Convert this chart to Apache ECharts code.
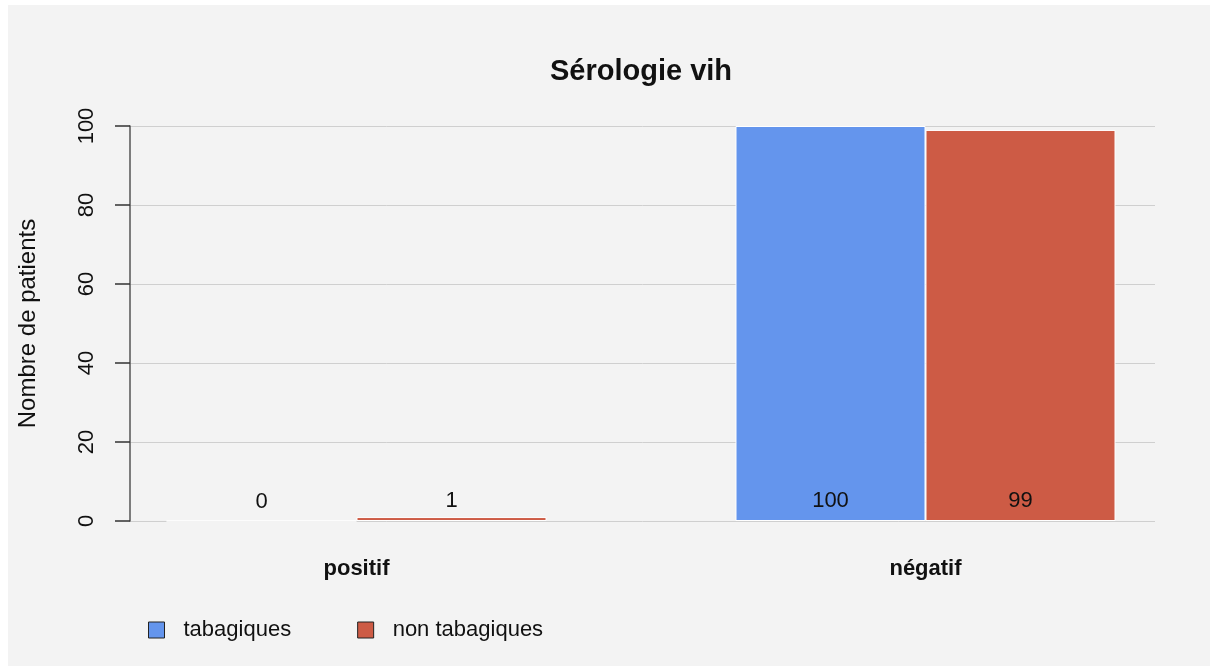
<!DOCTYPE html>
<html>
<head>
    <meta charset="utf-8">
    <title>Sérologie vih</title>
    <script src="https://cdn.jsdelivr.net/npm/echarts@6/dist/echarts.min.js"></script>
    <style>
        body { margin: 0; background: #ffffff; }
        #wrap { position: relative; width: 1210px; height: 666px; background: #ffffff; }
        #chart-container { position: absolute; left: 8px; top: 5px; width: 1202px; height: 661px; background: #f3f3f3; }
    </style>
</head>
<body>
<div id="wrap"><div id="chart-container"></div></div>
<script>
    // données
    var categories = ['positif', 'négatif'];
    var tabagiques = [0, 100];
    var nonTabagiques = [1, 99];
    var seriesNames = ['tabagiques', 'non tabagiques'];

    var font = 'Liberation Sans, Arial, sans-serif';

    var labelStyle = {
        show: true,
        position: 'insideBottom',
        distance: 9,
        color: '#111',
        fontSize: 22,
        fontFamily: font
    };

    var option1 = {
        backgroundColor: '#f3f3f3',
        animation: false,
        title: {
            text: 'Sérologie vih',
            left: 628,
            top: 47,
            textAlign: 'center',
            textStyle: { fontSize: 29, fontWeight: 'bold', color: '#111', fontFamily: font }
        },
        legend: {
            left: 135,
            top: 609,
            itemWidth: 16,
            itemHeight: 16,
            itemGap: 66,
            icon: 'rect',
            itemStyle: { borderColor: '#222', borderWidth: 1 },
            textStyle: { fontSize: 22, color: '#111', fontFamily: font, padding: [0, 0, 0, 14] },
            data: seriesNames
        },
        grid: [
            { left: 121, top: 121, width: 1026, height: 395 },
            { left: 64, top: 121, width: 1139, height: 395 }
        ],
        xAxis: [
            { type: 'category', gridIndex: 0, data: categories, show: false },
            {
                type: 'category', gridIndex: 1, data: categories,
                axisLine: { show: false },
                axisTick: { show: false },
                axisLabel: { margin: 37, fontSize: 22, fontWeight: 'bold', color: '#111', fontFamily: font }
            }
        ],
        yAxis: [
            {
                type: 'value', gridIndex: 0, min: 0, max: 100, interval: 20,
                name: 'Nombre de patients',
                nameLocation: 'middle',
                nameGap: 90,
                nameRotate: 90,
                nameTextStyle: { fontSize: 24, color: '#111', fontFamily: font },
                axisLine: { show: true, lineStyle: { color: '#555', width: 1.5 } },
                axisTick: { show: true, length: 15, lineStyle: { color: '#333', width: 1.5 } },
                axisLabel: { rotate: 90, margin: 32, fontSize: 22, color: '#111', fontFamily: font },
                splitLine: { show: true, lineStyle: { color: '#cfcfcf', width: 1 } }
            },
            { type: 'value', gridIndex: 1, min: 0, max: 100, show: false, splitLine: { show: false } }
        ],
        series: [
            {
                name: seriesNames[0],
                type: 'bar',
                xAxisIndex: 1,
                yAxisIndex: 1,
                barWidth: 190,
                barGap: '0%',
                itemStyle: { color: '#6495ED', borderColor: '#ffffff', borderWidth: 1 },
                label: labelStyle,
                data: tabagiques
            },
            {
                name: seriesNames[1],
                type: 'bar',
                xAxisIndex: 1,
                yAxisIndex: 1,
                barWidth: 190,
                barGap: '0%',
                itemStyle: { color: '#CD5B45', borderColor: '#ffffff', borderWidth: 1 },
                label: labelStyle,
                data: nonTabagiques
            }
        ]
    };

    var chart = echarts.init(document.getElementById('chart-container'));
    chart.setOption(option1);
</script>
</body>
</html>
